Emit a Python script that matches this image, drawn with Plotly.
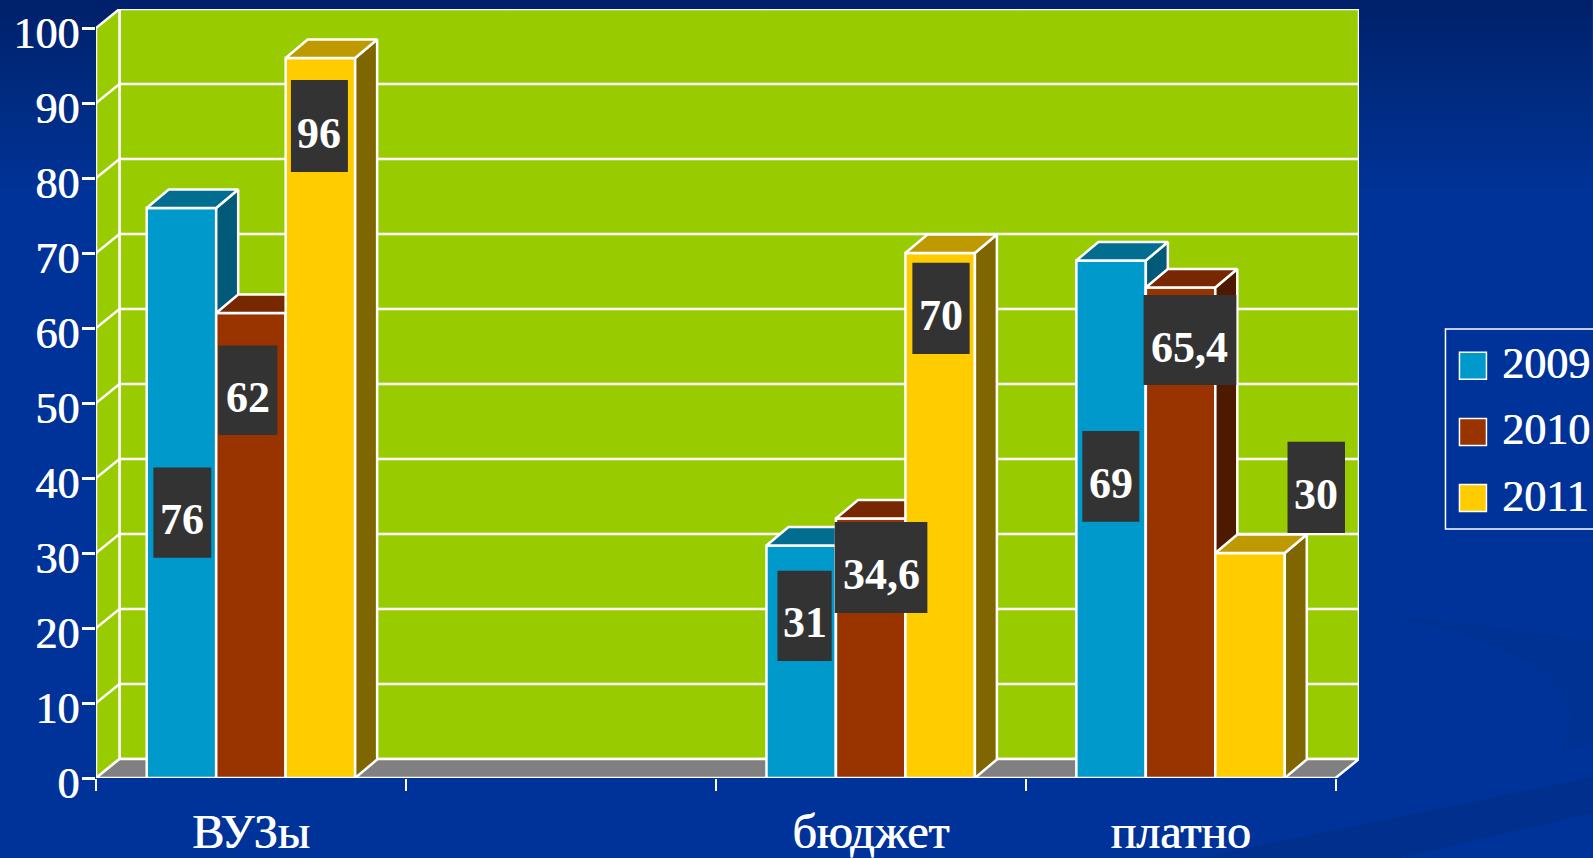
import base64
import plotly.graph_objects as go

categories = ["ВУЗы", "", "бюджет", "платно"]
years = ["2009", "2010", "2011"]
values_2009 = [76, None, 31, 69]
values_2010 = [62, None, 34.6, 65.4]
values_2011 = [96, None, 70, 30]
label_2009 = ["76", None, "31", "69"]
label_2010 = ["62", None, "34,6", "65,4"]
label_2011 = ["96", None, "70", "30"]
y_ticks = [0, 10, 20, 30, 40, 50, 60, 70, 80, 90, 100]

series = [values_2009, values_2010, values_2011]
labels = [label_2009, label_2010, label_2011]
front = ["#0099CC", "#993300", "#FFCC00"]
side = ["#005A78", "#4D1A00", "#806600"]
top = ["#006D91", "#772800", "#BF9900"]
WHITE = "#FFFFFF"
SERIF = "Liberation Serif"
THICK = "0.8px 0 0 #FFFFFF"

# pixel frame of the plot
W, H = 1593, 858
L, T, BOT = 96.0, 9.0, 778.0
CAT_PX, UNIT_PX = 310.0, 7.5
WALL_DX, WALL_DY = 23.5 / CAT_PX, 19.0 / UNIT_PX
BAR_DX, BAR_DY = 22.0 / CAT_PX, 18.5 / UNIT_PX
BAR_W = 69.5 / CAT_PX
LINE = 2.5
N = len(categories)
R = L + CAT_PX * (N + WALL_DX)
x_range = [0, N + WALL_DX]
y_range = [0, 100 + WALL_DY]


def poly(points):
    xs, ys = [], []
    for group in points:
        for a, b in group:
            xs.append(a)
            ys.append(b)
        xs.append(group[0][0])
        ys.append(group[0][1])
        xs.append(None)
        ys.append(None)
    return xs, ys


fig = go.Figure()


def face(points, fill, axes=("x", "y")):
    xs, ys = poly(points)
    fig.add_trace(go.Scatter(x=xs, y=ys, mode="lines", fill="toself", fillcolor=fill,
                             line=dict(color=WHITE, width=LINE), hoverinfo="skip",
                             showlegend=False, xaxis=axes[0], yaxis=axes[1]))


# walls and floor (base subplot)
face([[(WALL_DX, WALL_DY), (N + WALL_DX, WALL_DY), (N + WALL_DX, 100 + WALL_DY), (WALL_DX, 100 + WALL_DY)]], "#99CC00")
face([[(0, 0), (WALL_DX, WALL_DY), (WALL_DX, 100 + WALL_DY), (0, 100)]], "#99CC00")
face([[(0, 0), (N, 0), (N + WALL_DX, WALL_DY), (WALL_DX, WALL_DY)]], "#808080")
gx, gy = [], []
for v in y_ticks[1:-1]:
    gx += [0, WALL_DX, N + WALL_DX, None]
    gy += [v, v + WALL_DY, v + WALL_DY, None]
fig.add_trace(go.Scatter(x=gx, y=gy, mode="lines", line=dict(color=WHITE, width=LINE),
                         hoverinfo="skip", showlegend=False))

# one overlaid subplot per series, so each one covers the depth faces of the previous one
for s, vals in enumerate(series):
    ax_x, ax_y = f"x{s + 2}", f"y{s + 2}"
    cx = [i + 0.5 + (s - 1) * BAR_W for i, v in enumerate(vals) if v is not None]
    vy = [v for v in vals if v is not None]
    fig.add_trace(go.Bar(x=cx, y=vy, width=BAR_W, name=years[s],
                         marker=dict(color=front[s], line=dict(color=WHITE, width=LINE)),
                         xaxis=ax_x, yaxis=ax_y, showlegend=False))
    side_faces, top_faces = [], []
    for c, v in zip(cx, vy):
        x1 = c + BAR_W / 2
        x0 = c - BAR_W / 2
        side_faces.append([(x1, 0), (x1 + BAR_DX, BAR_DY), (x1 + BAR_DX, v + BAR_DY), (x1, v)])
        top_faces.append([(x0, v), (x1, v), (x1 + BAR_DX, v + BAR_DY), (x0 + BAR_DX, v + BAR_DY)])
    face(side_faces, side[s], (ax_x, ax_y))
    face(top_faces, top[s], (ax_x, ax_y))

fig.update_layout(
    width=W, height=H, autosize=False,
    margin=dict(l=L, r=W - R, t=T, b=H - BOT, pad=0),
    paper_bgcolor="#003399", plot_bgcolor="rgba(0,0,0,0)",
    barmode="overlay", showlegend=False, hovermode=False,
    xaxis=dict(range=x_range, automargin=False, showgrid=False, zeroline=False, showline=False,
               tickmode="array", tickvals=[i + 0.5 for i, c in enumerate(categories)], ticktext=categories,
               ticks="", ticklabelstandoff=21,
               tickfont=dict(family=SERIF, size=48, color=WHITE, shadow=THICK),
               minor=dict(tickmode="array", tickvals=list(range(N + 1)), ticks="outside", ticklen=12,
                          tickcolor=WHITE, tickwidth=2)),
    yaxis=dict(range=y_range, automargin=False, showgrid=False, zeroline=False, showline=False,
               tickmode="array", tickvals=y_ticks, ticks="outside", ticklen=13, tickcolor=WHITE, tickwidth=2.5,
               ticklabelshift=5, ticklabelstandoff=-6, ticklabeloverflow="allow",
               tickfont=dict(family=SERIF, size=44, color=WHITE, shadow=THICK)),
)
for s in range(len(series)):
    fig.layout[f"xaxis{s + 2}"] = dict(range=x_range, overlaying="x", visible=False)
    fig.layout[f"yaxis{s + 2}"] = dict(range=y_range, overlaying="y", visible=False)

# background gradient with the faint swooshes of the slide template
svg = ('<svg xmlns="http://www.w3.org/2000/svg" width="1593" height="858">'
       '<defs><linearGradient id="g" x1="0" y1="0" x2="0" y2="1">'
       '<stop offset="0" stop-color="#00206A"/><stop offset="0.1" stop-color="#002A7E"/>'
       '<stop offset="0.23" stop-color="#003399"/><stop offset="1" stop-color="#003399"/>'
       '</linearGradient></defs><rect width="1593" height="858" fill="url(#g)"/>'
       '<path d="M1200 858 L1593 777 L1593 813 L1400 858 Z" fill="#002F8E"/>'
       '<path d="M1360 610 Q1620 660 1560 750 L1593 745 L1593 640 Z" fill="#003294"/>'
       '</svg>')
pw, ph = R - L, BOT - T
fig.add_layout_image(dict(source="data:image/svg+xml;base64," + base64.b64encode(svg.encode()).decode(),
                          xref="paper", yref="paper", x=-L / pw, y=1 + T / ph, sizex=W / pw, sizey=H / ph,
                          xanchor="left", yanchor="top", sizing="stretch", layer="below"))


def px(x):
    return (x - L) / pw


def py(y):
    return (BOT - y) / ph


# data labels: the dark boxes were placed by hand in the original (x0, x1, y0, y1)
label_boxes = [
    [(153.4, 211.3, 467.4, 557.8), None, (777.7, 832, 570.7, 661), (1082.7, 1139.8, 431, 521.7)],
    [(218.4, 277.4, 345.4, 434.9), None, (835, 927.7, 522, 613), (1144, 1236.8, 295, 385)],
    [(291, 348, 80, 172), None, (912.7, 970, 262.7, 354), (1288, 1345.5, 441.7, 533)],
]
for s, row in enumerate(labels):
    for i, text in enumerate(row):
        if text is None:
            continue
        x0, x1, y0, y1 = label_boxes[s][i]
        fig.add_shape(type="rect", xref="paper", yref="paper", x0=px(x0), x1=px(x1), y0=py(y1), y1=py(y0),
                      fillcolor="#333333", line=dict(width=0), layer="above")
        fig.add_annotation(xref="paper", yref="paper", x=px((x0 + x1) / 2), y=py((y0 + y1) / 2 + 7),
                           text=f"<b>{text}</b>", showarrow=False, xanchor="center", yanchor="middle",
                           font=dict(family=SERIF, size=44, color=WHITE))

# legend box
fig.add_shape(type="rect", xref="paper", yref="paper", x0=px(1446), x1=px(1610), y0=py(529), y1=py(329),
              line=dict(color=WHITE, width=1.5), fillcolor="rgba(0,0,0,0)", layer="above")
for s, year in enumerate(years):
    yc = 365.7 + s * 66.2
    fig.add_shape(type="rect", xref="paper", yref="paper", x0=px(1460), x1=px(1487), y0=py(yc + 13.5), y1=py(yc - 13.5),
                  line=dict(color=WHITE, width=1.5), fillcolor=front[s], layer="above")
    fig.add_annotation(xref="paper", yref="paper", x=px(1501), y=py(yc - 2), text=year, showarrow=False,
                       xanchor="left", yanchor="middle",
                       font=dict(family=SERIF, size=44, color=WHITE, shadow=THICK))

fig.write_html("out.html", config=dict(displayModeBar=False),
               post_script="document.body.style.margin='0';document.body.style.overflow='hidden';")
